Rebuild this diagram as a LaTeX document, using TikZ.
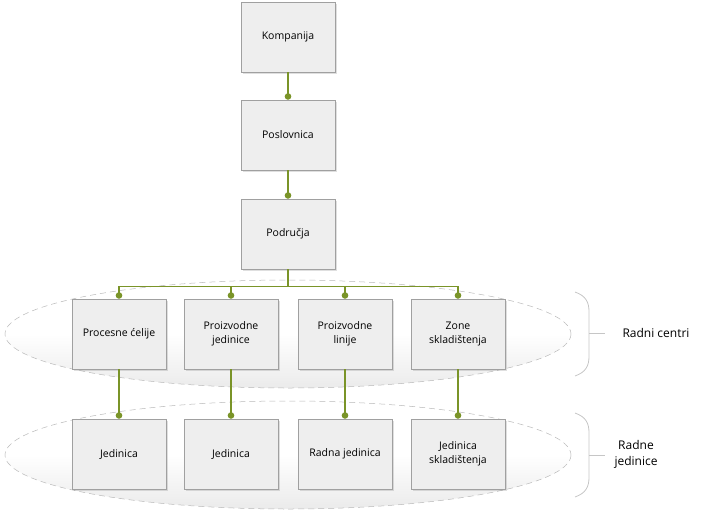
\documentclass[tikz,border=0pt]{standalone}
\usepackage{fontspec}
\setmainfont{Open Sans}
\usetikzlibrary{arrows,arrows.meta,shadows}
\definecolor{org_green}{RGB}{122, 148, 40}
\definecolor{org_box}{RGB}{238, 238, 238}
\definecolor{org_edge}{RGB}{160, 160, 160}
\tikzstyle{box}=[rectangle,fill=org_box,draw=org_edge,line width=0.6pt,
  minimum width=94pt,minimum height=70pt,align=center,font=\fontsize{10.5}{14}\selectfont,
  drop shadow={opacity=0.25,shadow xshift=1.5pt,shadow yshift=-1.5pt}]
\tikzstyle{link}=[draw=org_green,line width=1.4pt,-{Circle[length=6.5pt]}]
\tikzstyle{zone}=[draw=gray!55,dashed,dash pattern=on 6pt off 4pt,line width=0.5pt,
  top color=white,bottom color=gray!16,middle color=white]
\tikzstyle{brace}=[draw=gray!45,line width=0.8pt]
\tikzstyle{tag}=[font=\fontsize{12}{16}\selectfont,align=center]

\begin{document}
\begin{tikzpicture}[x=1pt,y=-1pt]
            \useasboundingbox (0,0) rectangle (704,517);
            \draw [style=zone] (288,334) ellipse [x radius=283, y radius=54];
            \draw [style=zone] (288,455) ellipse [x radius=283, y radius=54];
            \node [style=box] (1) at (288, 37) {Kompanija};
            \node [style=box] (2) at (288, 135) {Poslovnica};
            \node [style=box] (3) at (288, 234) {Područja};
            \node [style=box] (4) at (119, 334) {Procesne ćelije};
            \node [style=box] (5) at (231, 334) {Proizvodne\\jedinice};
            \node [style=box] (6) at (345, 334) {Proizvodne\\linije};
            \node [style=box] (7) at (458, 334) {Zone\\skladištenja};
            \node [style=box] (8) at (119, 454) {Jedinica};
            \node [style=box] (9) at (231, 454) {Jedinica};
            \node [style=box] (10) at (345, 454) {Radna jedinica};
            \node [style=box] (11) at (458, 454) {Jedinica\\skladištenja};
            \node [style=tag] (12) at (656, 333) {Radni centri};
            \node [style=tag] (13) at (636, 454) {Radne\\jedinice};
            \draw [style=link] (1) to (2);
            \draw [style=link] (2) to (3);
            \draw [style=link] (3.south) -- ++(0,17) -| (4.north);
            \draw [style=link] (3.south) -- ++(0,17) -| (5.north);
            \draw [style=link] (3.south) -- ++(0,17) -| (6.north);
            \draw [style=link] (3.south) -- ++(0,17) -| (7.north);
            \draw [style=link] (4) to (8);
            \draw [style=link] (5) to (9);
            \draw [style=link] (6) to (10);
            \draw [style=link] (7) to (11);
            \draw [style=brace] (575,292) .. controls (586,296) and (589,302) .. (589,312)
              -- (589,356) .. controls (589,366) and (586,372) .. (575,376);
            \draw [style=brace] (589,333) -- (605,333);
            \draw [style=brace] (575,413) .. controls (586,417) and (589,423) .. (589,433)
              -- (589,477) .. controls (589,487) and (586,493) .. (575,497);
            \draw [style=brace] (589,455) -- (605,455);
    \end{tikzpicture}
\end{document}
